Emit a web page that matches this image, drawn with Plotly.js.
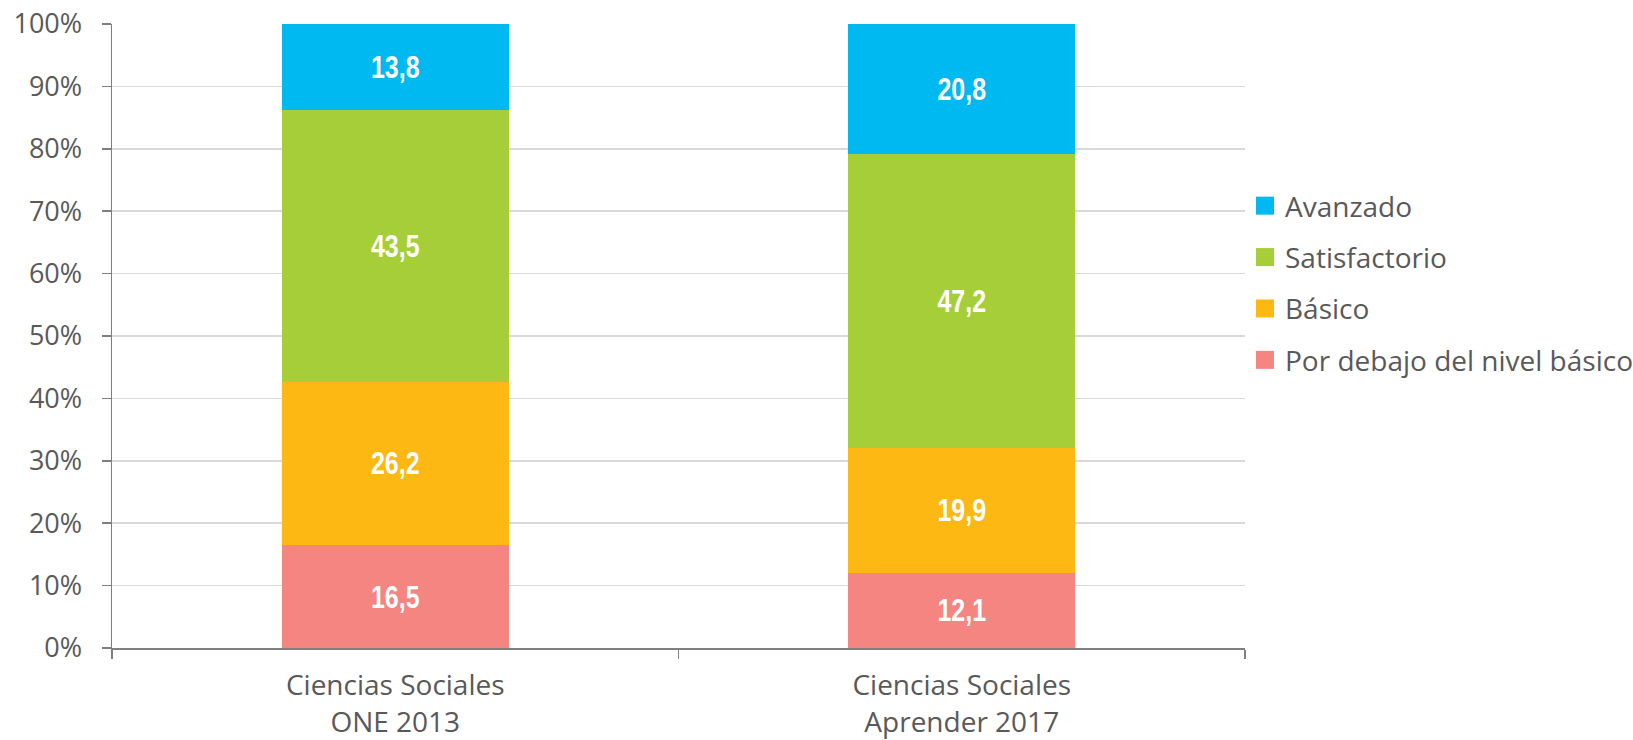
<!DOCTYPE html>
<html>
<head>
<meta charset="utf-8">
<script src="https://cdn.plot.ly/plotly-3.0.1.min.js"></script>
<style>html,body{margin:0;padding:0;background:#fff;}#chart{width:1633px;height:740px;}</style>
</head>
<body>
<div id="chart"></div>
<script>
const categories = ["Ciencias Sociales<br>ONE 2013", "Ciencias Sociales<br>Aprender 2017"];
const porDebajo = [16.5, 12.1];
const basico = [26.2, 19.9];
const satisfactorio = [43.5, 47.2];
const avanzado = [13.8, 20.8];
const seriesNames = ["Por debajo del nivel básico", "Básico", "Satisfactorio", "Avanzado"];
const seriesColors = ["#F48580", "#FDB813", "#A6CE39", "#00B9F1"];
const yTicks = [0, 10, 20, 30, 40, 50, 60, 70, 80, 90, 100];
const yTickLabels = ["0%", "10%", "20%", "30%", "40%", "50%", "60%", "70%", "80%", "90%", "100%"];

const seriesValues = [porDebajo, basico, satisfactorio, avanzado];
const traces = seriesValues.map((vals, i) => ({
  type: 'bar',
  name: seriesNames[i],
  legendgroup: 'g' + i,
  legendrank: 1000 - i,
  x: categories,
  y: vals,
  marker: {color: seriesColors[i], line: {width: 0}},
  texttemplate: '%{y:.1f}',
  textposition: 'inside',
  insidetextanchor: 'middle',
  textangle: 0,
  textfont: {family: '"Liberation Sans", Arial, sans-serif', size: 32, color: '#FFFFFF', weight: 'bold'},
  hoverinfo: 'skip'
}));

const layout = {
  width: 1633,
  height: 740,
  margin: {l: 112, r: 388, t: 24, b: 92, pad: 0, autoexpand: false},
  barmode: 'stack',
  bargap: 0.6,
  separators: ',.',
  paper_bgcolor: '#FFFFFF',
  plot_bgcolor: '#FFFFFF',
  font: {family: '"Open Sans", sans-serif', color: '#595959', size: 27},
  showlegend: true,
  legend: {
    x: 1.0, xanchor: 'left', y: 0.585, yanchor: 'middle',
    traceorder: 'grouped',
    tracegroupgap: 12,
    font: {family: '"Open Sans", sans-serif', size: 28, color: '#595959'},
    bgcolor: 'rgba(0,0,0,0)'
  },
  xaxis: {
    type: 'category',
    showline: true, linecolor: '#7F7F7F', linewidth: 1.5,
    ticks: 'outside', tickson: 'boundaries', ticklen: 9, tickcolor: '#7F7F7F', tickwidth: 1.5,
    showgrid: false,
    ticklabelstandoff: 12,
    tickfont: {family: '"Open Sans", sans-serif', size: 28, color: '#595959'},
    fixedrange: true
  },
  yaxis: {
    range: [0, 100],
    tickmode: 'array',
    tickvals: yTicks,
    ticktext: yTickLabels,
    showline: true, linecolor: '#7F7F7F', linewidth: 1.5,
    ticks: 'outside', ticklen: 9, tickcolor: '#7F7F7F', tickwidth: 1.5,
    showgrid: true, gridcolor: '#D9D9D9', gridwidth: 1.5,
    zeroline: false,
    ticklabelstandoff: 14,
    tickfont: {family: '"Open Sans", sans-serif', size: 27, color: '#595959'},
    fixedrange: true
  }
};

Plotly.newPlot('chart', traces, layout, {displayModeBar: false, staticPlot: true}).then(gd => {
  // narrow the bar labels horizontally (condensed look of the original)
  gd.querySelectorAll('text.bartext').forEach(t => {
    const cx = parseFloat(t.getAttribute('x')) || 0;
    const tr = t.getAttribute('transform') || '';
    t.setAttribute('transform', tr + ' translate(' + cx + ' 0) scale(0.78 1) translate(' + (-cx) + ' 0)');
  });
  // larger square legend swatches
  gd.querySelectorAll('.legendpoints path').forEach(p => {
    const tr = p.getAttribute('transform') || '';
    p.setAttribute('transform', tr + ' scale(1.5)');
  });
});
</script>
</body>
</html>
